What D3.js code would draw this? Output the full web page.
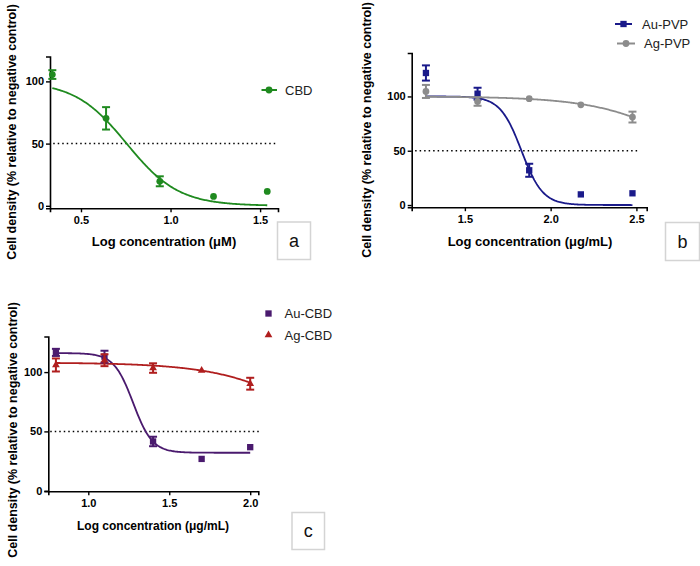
<!DOCTYPE html>
<html><head><meta charset="utf-8">
<script src="https://cdn.jsdelivr.net/npm/d3@7"></script>
<style>body{margin:0;background:#fff} svg{display:block} text{font-family:"Liberation Sans",Arial,sans-serif}</style>
</head><body><svg id="chart" width="700" height="566"></svg>
<script>
// ---------- Panel a : CBD ----------
const aLogConc = [0.34, 0.64, 0.94, 1.24, 1.54];
const cbdMean  = [105.5, 70.3, 19.7, 7.5, 11.6];
const cbdErr   = [3.5, 9, 4, 0, 0];
const cbdFit   = [0, 100, 0.755, 3.0];          // bottom, top, logIC50, hill
const aXTicks  = [0.5, 1.0, 1.5];
const aYTicks  = [0, 50, 100];

// ---------- Panel b : Au-PVP / Ag-PVP ----------
const bLogConc  = [1.273, 1.574, 1.875, 2.176, 2.477];
const auPvpMean = [121.6, 102.5, 32, 9.8, 10.8];
const auPvpErr  = [7, 5.5, 6, 0, 0];
const agPvpMean = [104.6, 95.4, 97.9, 92.3, 81];
const agPvpErr  = [6, 4, 0, 0, 5];
const auPvpFit  = [0, 100, 1.83, 7];
const agPvpFit  = [0, 100, 2.86, 1.64];
const bXTicks   = [1.5, 2.0, 2.5];
const bYTicks   = [0, 50, 100];

// ---------- Panel c : Au-CBD / Ag-CBD ----------
const cLogConc  = [0.8, 1.1, 1.4, 1.7, 2.0];
const auCbdMean = [116.6, 113, 41.5, 26.8, 36.7];
const auCbdErr  = [3, 5, 4, 0, 0];
const agCbdMean = [106, 110, 103.4, 101.4, 90.2];
const agCbdErr  = [5.5, 5, 4, 0, 5];
const auCbdFit  = [32, 116, 1.277, 7.3];
const agCbdFit  = [0, 108, 2.49, 1.49];
const cXTicks   = [1.0, 1.5, 2.0];
const cYTicks   = [0, 50, 100];

const yTitle = "Cell density (% relative to negative control)";

const svg = d3.select("#chart");
const fourPL = (p, x) => p[0] + (p[1] - p[0]) / (1 + Math.pow(10, (x - p[2]) * p[3]));

function panel(cfg) {
  const g = svg.append("g");
  const x = d3.scaleLinear().domain(cfg.xDomain).range(cfg.xRange);
  const y = d3.scaleLinear().domain(cfg.yDomain).range(cfg.yRange);

  // axes
  const xa = g.append("g").attr("transform", `translate(0,${y(cfg.yDomain[0])})`)
    .call(d3.axisBottom(x).tickValues(cfg.xTicks).tickFormat(d3.format(".1f")).tickSizeOuter(0).tickSize(4).tickPadding(4));
  const ya = g.append("g").attr("transform", `translate(${x(cfg.xDomain[0])},0)`)
    .call(d3.axisLeft(y).tickValues(cfg.yTicks).tickFormat(d3.format("d")).tickSizeOuter(0).tickSize(4).tickPadding(2));
  [xa, ya].forEach(a => {
    a.select(".domain").attr("stroke", "#000").attr("stroke-width", 1.6);
    a.selectAll(".tick line").attr("stroke", "#000").attr("stroke-width", 1.4);
    a.selectAll(".tick text").attr("fill", "#000").style("font-size", "11px").style("font-weight", "bold")
      .style("font-family", '"Liberation Sans", Arial, sans-serif');
  });

  // 50% reference line
  g.append("line").attr("x1", x(cfg.refX[0])).attr("x2", x(cfg.refX[1]))
    .attr("y1", y(50)).attr("y2", y(50))
    .attr("stroke", "#000").attr("stroke-width", 1.5).attr("stroke-dasharray", "1.5,3");

  // fitted curves
  cfg.series.forEach(s => {
    const xs = d3.range(0, 201).map(i => s.x[0] + (s.x[s.x.length - 1] - s.x[0]) * i / 200);
    g.append("path").datum(xs)
      .attr("d", d3.line().x(d => x(d)).y(d => y(fourPL(s.fit, d))))
      .attr("fill", "none").attr("stroke", s.color).attr("stroke-width", 1.8);
  });

  // points + error bars
  cfg.series.forEach(s => {
    const pts = s.x.map((v, i) => ({ x: v, y: s.y[i], e: s.err[i] }));
    const eb = g.append("g").attr("stroke", s.color).attr("stroke-width", 2);
    pts.filter(p => p.e > 0).forEach(p => {
      eb.append("line").attr("x1", x(p.x)).attr("x2", x(p.x)).attr("y1", y(p.y - p.e)).attr("y2", y(p.y + p.e));
      [p.y - p.e, p.y + p.e].forEach(v =>
        eb.append("line").attr("x1", x(p.x) - 4).attr("x2", x(p.x) + 4).attr("y1", y(v)).attr("y2", y(v)));
    });
    g.append("g").selectAll("path").data(pts).join("path")
      .attr("transform", p => `translate(${x(p.x)},${y(p.y)})`)
      .attr("d", d3.symbol().type(s.shape).size(s.size))
      .attr("fill", s.color);
  });

  // axis titles
  g.append("text").attr("x", cfg.xTitlePos[0]).attr("y", cfg.xTitlePos[1]).attr("text-anchor", "middle")
    .style("font-size", cfg.xTitleSize + "px").style("font-weight", "bold").text(cfg.xTitle);
  g.append("text").attr("transform", `translate(${cfg.yTitlePos[0]},${cfg.yTitlePos[1]}) rotate(-90)`)
    .attr("text-anchor", "middle").attr("dy", "0.35em")
    .style("font-size", "12.5px").style("font-weight", "bold").text(yTitle);

  // legend
  cfg.legend.forEach(l => {
    const lg = g.append("g");
    if (l.line) lg.append("line").attr("x1", l.lx[0]).attr("x2", l.lx[1]).attr("y1", l.y).attr("y2", l.y)
      .attr("stroke", l.s.color).attr("stroke-width", 2);
    lg.append("path").attr("transform", `translate(${l.mx},${l.y})`)
      .attr("d", d3.symbol().type(l.s.shape).size(l.s.size)).attr("fill", l.s.color);
    lg.append("text").attr("x", l.tx).attr("y", l.y).attr("dy", "0.35em")
      .style("font-size", "13px").attr("fill", "#222").text(l.s.name);
  });

  // letter box
  const b = cfg.box;
  g.append("rect").attr("x", b[0]).attr("y", b[1]).attr("width", b[2]).attr("height", b[3])
    .attr("fill", "#fff").attr("stroke", "#d4d4d4").attr("stroke-width", 1.5);
  g.append("text").attr("x", b[0] + b[2] / 2).attr("y", b[1] + b[3] / 2).attr("dy", "0.35em")
    .attr("text-anchor", "middle").style("font-size", "18px").attr("fill", "#111").text(cfg.letter);
}

// ---- panel a
const sCbd = { name: "CBD", x: aLogConc, y: cbdMean, err: cbdErr, fit: cbdFit, color: "#1f8a1f", shape: d3.symbolCircle, size: 36 };
panel({
  xDomain: [0.327, 1.6], xRange: [50, 278], yDomain: [-2, 120], yRange: [208.3, 56.5],
  xTicks: aXTicks, yTicks: aYTicks, refX: [0.345, 1.6],
  series: [sCbd],
  xTitle: "Log concentration (μM)", xTitleSize: 13, xTitlePos: [164, 246],
  yTitlePos: [12, 132],
  legend: [{ s: sCbd, line: true, lx: [261.5, 277], mx: 269, y: 90, tx: 285 }],
  box: [277.5, 222, 33, 37.5], letter: "a"
});

// ---- panel b
const sAuPvp = { name: "Au-PVP", x: bLogConc, y: auPvpMean, err: auPvpErr, fit: auPvpFit, color: "#1a1a8a", shape: d3.symbolSquare, size: 40 };
const sAgPvp = { name: "Ag-PVP", x: bLogConc, y: agPvpMean, err: agPvpErr, fit: agPvpFit, color: "#8c8c8c", shape: d3.symbolCircle, size: 36 };
panel({
  xDomain: [1.19, 2.56], xRange: [411.7, 646.7], yDomain: [-2, 140], yRange: [207.2, 53],
  xTicks: bXTicks, yTicks: bYTicks, refX: [1.21, 2.51],
  series: [sAuPvp, sAgPvp],
  xTitle: "Log concentration (μg/mL)", xTitleSize: 13, xTitlePos: [530, 246],
  yTitlePos: [367, 130],
  legend: [
    { s: sAuPvp, line: true, lx: [615, 632], mx: 623.5, y: 24, tx: 642 },
    { s: sAgPvp, line: true, lx: [617, 635], mx: 626, y: 43.5, tx: 644 }
  ],
  box: [665.5, 222.5, 34, 38], letter: "b"
});

// ---- panel c
const sAuCbd = { name: "Au-CBD", x: cLogConc, y: auCbdMean, err: auCbdErr, fit: auCbdFit, color: "#4a1a6e", shape: d3.symbolSquare, size: 40 };
const sAgCbd = { name: "Ag-CBD", x: cLogConc, y: agCbdMean, err: agCbdErr, fit: agCbdFit, color: "#b01e1e", shape: d3.symbolTriangle, size: 26 };
panel({
  xDomain: [0.753, 2.05], xRange: [48.3, 258.3], yDomain: [-0.5, 130], yRange: [491.3, 336.5],
  xTicks: cXTicks, yTicks: cYTicks, refX: [0.765, 2.06],
  series: [sAuCbd, sAgCbd],
  xTitle: "Log concentration (μg/mL)", xTitleSize: 12, xTitlePos: [153, 530],
  yTitlePos: [13, 430],
  legend: [
    { s: sAuCbd, line: false, mx: 268.5, y: 313.5, tx: 284.5 },
    { s: sAgCbd, line: false, mx: 268.5, y: 335, tx: 284.5 }
  ],
  box: [292, 512.5, 32.5, 37], letter: "c"
});
</script>
</body></html>
